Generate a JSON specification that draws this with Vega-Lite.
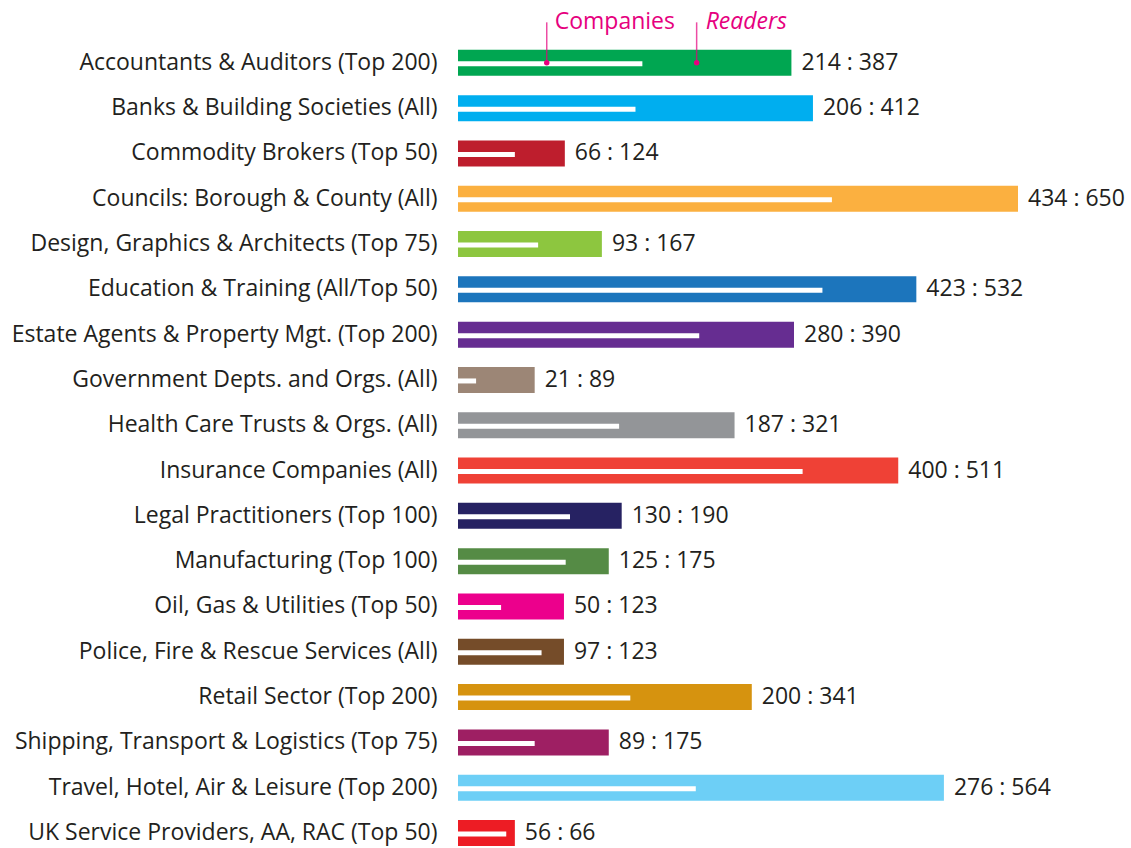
{
  "$schema": "https://vega.github.io/schema/vega-lite/v6.json",
  "width": 560,
  "height": 846,
  "autosize": {"type": "none"},
  "padding": {"left": 458, "top": 0, "right": 113, "bottom": 2},
  "background": "white",
  "config": {"view": {"stroke": null}, "font": "Open Sans"},
  "datasets": {
    "main": [
      {"sector": "Accountants & Auditors (Top 200)", "companies": 214, "readers": 387},
      {"sector": "Banks & Building Societies (All)", "companies": 206, "readers": 412},
      {"sector": "Commodity Brokers (Top 50)", "companies": 66, "readers": 124},
      {"sector": "Councils: Borough & County (All)", "companies": 434, "readers": 650},
      {"sector": "Design, Graphics & Architects (Top 75)", "companies": 93, "readers": 167},
      {"sector": "Education & Training (All/Top 50)", "companies": 423, "readers": 532},
      {"sector": "Estate Agents & Property Mgt. (Top 200)", "companies": 280, "readers": 390},
      {"sector": "Government Depts. and Orgs. (All)", "companies": 21, "readers": 89},
      {"sector": "Health Care Trusts & Orgs. (All)", "companies": 187, "readers": 321},
      {"sector": "Insurance Companies (All)", "companies": 400, "readers": 511},
      {"sector": "Legal Practitioners (Top 100)", "companies": 130, "readers": 190},
      {"sector": "Manufacturing (Top 100)", "companies": 125, "readers": 175},
      {"sector": "Oil, Gas & Utilities (Top 50)", "companies": 50, "readers": 123},
      {"sector": "Police, Fire & Rescue Services (All)", "companies": 97, "readers": 123},
      {"sector": "Retail Sector (Top 200)", "companies": 200, "readers": 341},
      {"sector": "Shipping, Transport & Logistics (Top 75)", "companies": 89, "readers": 175},
      {"sector": "Travel, Hotel, Air & Leisure (Top 200)", "companies": 276, "readers": 564},
      {"sector": "UK Service Providers, AA, RAC (Top 50)", "companies": 56, "readers": 66}
    ],
    "notes": [
      {"sector": "Accountants & Auditors (Top 200)", "name": "Companies", "value": 103},
      {"sector": "Accountants & Auditors (Top 200)", "name": "Readers", "value": 277}
    ]
  },
  "encoding": {
    "y": {
      "field": "sector",
      "type": "nominal",
      "title": null,
      "scale": {"paddingInner": 0.426, "paddingOuter": 0.55, "align": 1},
      "axis": {
        "domain": false,
        "ticks": false,
        "grid": false,
        "labelPadding": 21,
        "labelFontSize": 23,
        "labelFont": "Open Sans",
        "labelColor": "#231f20",
        "labelLimit": 600
      }
    }
  },
  "layer": [
    {
      "data": {"name": "main"},
      "mark": {"type": "bar"},
      "encoding": {
        "x": {"field": "readers", "type": "quantitative", "scale": {"nice": false, "zero": true}, "axis": null},
        "color": {
          "field": "sector",
          "type": "nominal",
          "legend": null,
          "scale": {"range": ["#00a651", "#00aeef", "#be1e2d", "#fbb040", "#8dc63f", "#1c75bc", "#662d91", "#9c8676", "#939598", "#ef4136", "#262262", "#558b45", "#ec008c", "#754c29", "#d6930f", "#9e1f63", "#6dcff6", "#ed1c24"]}
        }
      }
    },
    {
      "data": {"name": "main"},
      "mark": {"type": "bar", "color": "#ffffff", "size": 5, "yOffset": 1},
      "encoding": {
        "x": {"field": "companies", "type": "quantitative"}
      }
    },
    {
      "data": {"name": "main"},
      "transform": [{"calculate": "datum.companies + ' : ' + datum.readers", "as": "pair"}],
      "mark": {"type": "text", "align": "left", "baseline": "middle", "dx": 10, "fontSize": 23, "font": "Open Sans", "color": "#231f20"},
      "encoding": {
        "x": {"field": "readers", "type": "quantitative"},
        "text": {"field": "pair", "type": "nominal"}
      }
    },
    {
      "data": {"name": "notes"},
      "mark": {"type": "tick", "orient": "vertical", "color": "#e6007e", "thickness": 1.5, "size": 41, "yOffset": -20},
      "encoding": {
        "x": {"field": "value", "type": "quantitative"}
      }
    },
    {
      "data": {"name": "notes"},
      "mark": {"type": "circle", "color": "#e6007e", "size": 30, "opacity": 1},
      "encoding": {
        "x": {"field": "value", "type": "quantitative"}
      }
    },
    {
      "data": {"name": "notes"},
      "transform": [{"filter": "datum.name == 'Companies'"}],
      "mark": {"type": "text", "align": "left", "baseline": "middle", "dx": 8, "dy": -41, "fontSize": 23, "font": "Open Sans", "color": "#e6007e"},
      "encoding": {
        "x": {"field": "value", "type": "quantitative"},
        "text": {"field": "name", "type": "nominal"}
      }
    },
    {
      "data": {"name": "notes"},
      "transform": [{"filter": "datum.name == 'Readers'"}],
      "mark": {"type": "text", "align": "left", "baseline": "middle", "dx": 9, "dy": -41, "fontSize": 23, "font": "Open Sans", "fontStyle": "italic", "color": "#e6007e"},
      "encoding": {
        "x": {"field": "value", "type": "quantitative"},
        "text": {"field": "name", "type": "nominal"}
      }
    }
  ]
}
